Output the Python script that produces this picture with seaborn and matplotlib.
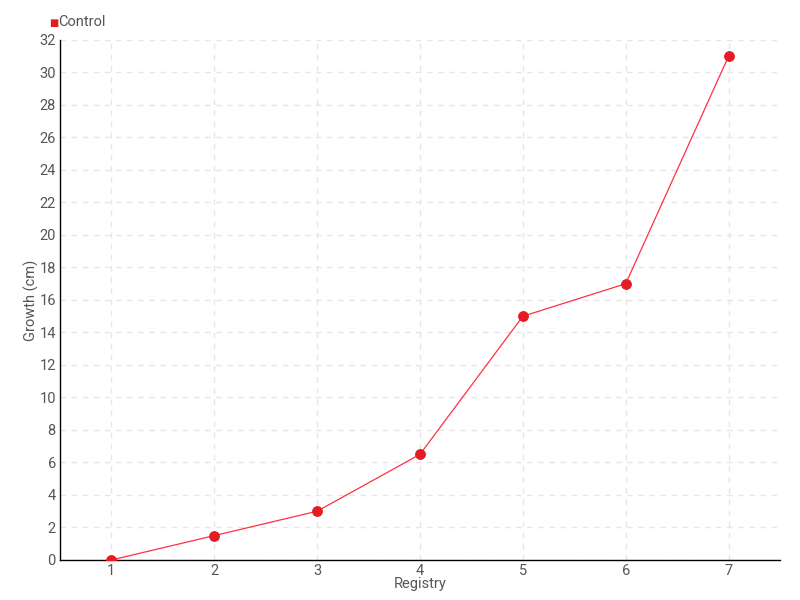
import matplotlib
matplotlib.use("Agg")
import matplotlib.pyplot as plt
import seaborn as sns
import pandas as pd

# ----------------------
# Data
# ----------------------
registry = [1, 2, 3, 4, 5, 6, 7]
growth = [0, 1.5, 3, 6.5, 15, 17, 31]
y_ticks = list(range(0, 33, 2))

df = pd.DataFrame({"Registry": registry, "Growth": growth})

# ----------------------
# Style
# ----------------------
sns.set_style("white")
plt.rcParams["font.family"] = ["Roboto", "DejaVu Sans"]
text_color = "#555555"
red = "#e51c23"

fig = plt.figure(figsize=(8, 6), dpi=100)
ax = fig.add_axes([0.075, 0.0667, 0.9, 0.8667])

sns.lineplot(data=df, x="Registry", y="Growth", ax=ax, color="#ff3040",
             linewidth=0.9, marker="o", markersize=7,
             markerfacecolor=red, markeredgecolor=red, zorder=3)

ax.set_xlim(0.5, 7.5)
ax.set_ylim(0, 32)
ax.set_xticks(registry)
ax.set_yticks(y_ticks)
ax.grid(True, color="#e6e6e6", linestyle=(0, (4, 4)), linewidth=1)
ax.set_axisbelow(True)

for side in ["top", "right"]:
    ax.spines[side].set_visible(False)
for side in ["left", "bottom"]:
    ax.spines[side].set_color("black")
    ax.spines[side].set_linewidth(1)

ax.tick_params(axis="both", colors=text_color, labelsize=10.5, length=4,
               width=1, direction="inout", pad=1)
ax.tick_params(axis="both", color="black")
ax.set_xlabel("Registry", color=text_color, fontsize=10.5, labelpad=-1)
ax.set_ylabel("Growth (cm)", color=text_color, fontsize=10.5, labelpad=0)

# legend at top-left
fig.text(0.062, 0.961, "\u25a0", color=red, fontsize=7, va="center", ha="left")
fig.text(0.073, 0.963, "Control", color=text_color, fontsize=10.5,
         va="center", ha="left")

fig.savefig("out.png", dpi=100)
